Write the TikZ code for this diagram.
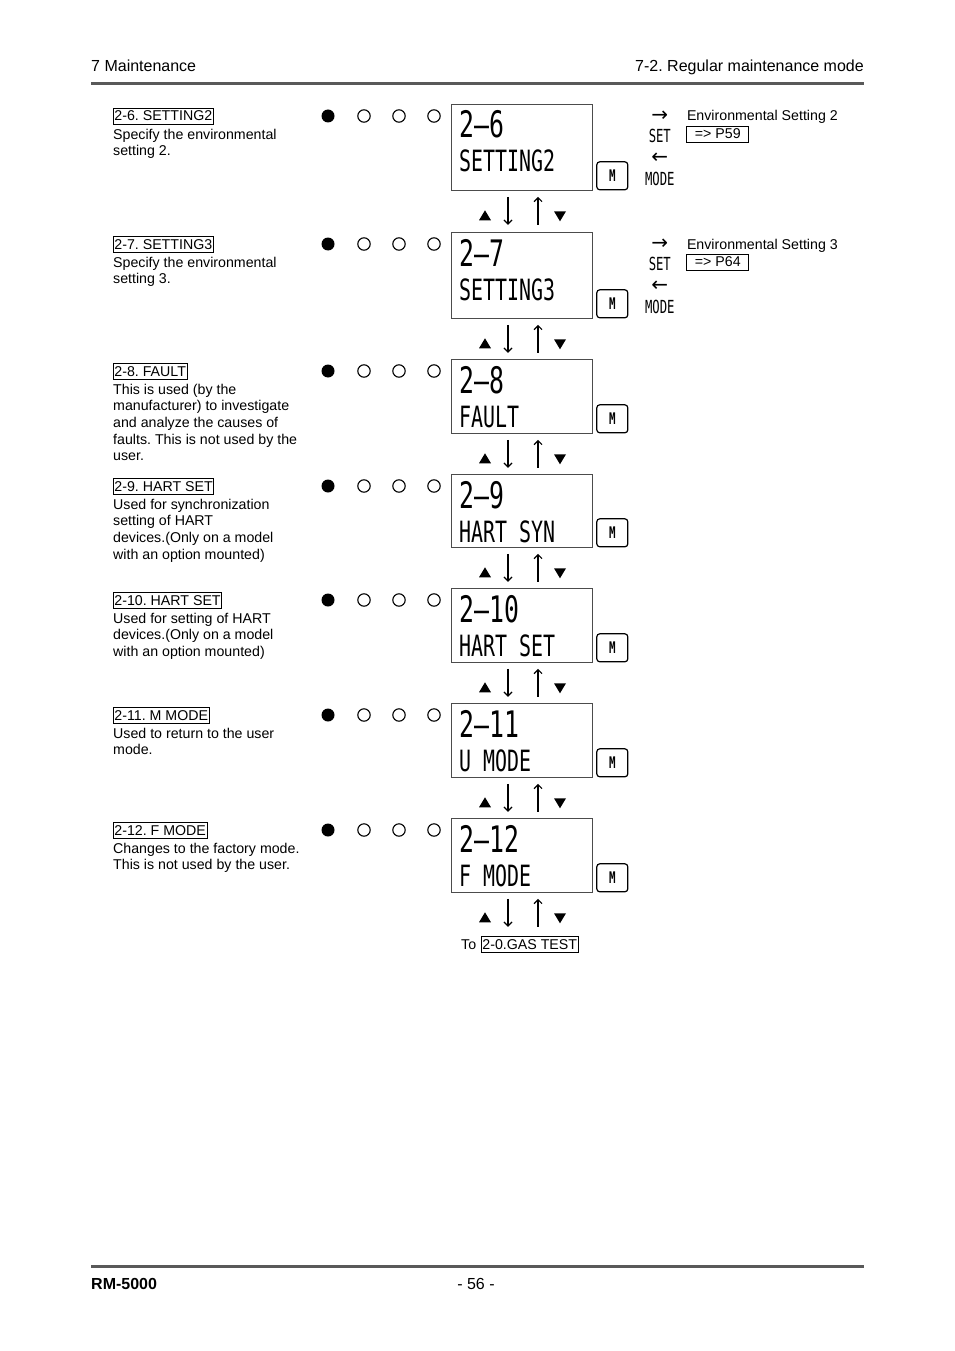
\documentclass[tikz,border=0pt]{standalone}
\usepackage{fontspec}
\setmainfont{Liberation Sans}
\newfontfamily\lcdfont[FakeStretch=0.68]{DejaVu Sans Mono}
\newfontfamily\symfont{DejaVu Sans}
\usetikzlibrary{arrows.meta, positioning, calc}
\frenchspacing

\tikzset{
  head/.style={font=\fontsize{16}{19}\selectfont, inner sep=0pt},
  body/.style={font=\fontsize{14.2}{16.6}\selectfont, inner sep=0pt, align=left},
  titlebox/.style={body, draw, line width=0.8pt, text height=11.5pt, text depth=2.5pt,
    inner xsep=1pt, inner ysep=1pt},
  pagebox/.style={body, draw, line width=0.8pt, minimum width=62pt, minimum height=16pt},
  lcd/.style={draw=black!70, line width=0.8pt, minimum width=141pt, inner sep=0pt,
    anchor=north west},
  lcdbig/.style={font=\lcdfont\fontsize{36.5}{36.5}\selectfont, inner sep=0pt},
  lcdsmall/.style={font=\lcdfont\fontsize{29.3}{29.3}\selectfont, inner sep=0pt},
  keylbl/.style={font=\lcdfont\fontsize{18}{18}\selectfont, inner sep=0pt},
  sym/.style={font=\symfont\fontsize{20}{20}\selectfont, inner sep=0pt},
  mkey/.style={draw, rounded corners=3pt, line width=1.2pt, minimum width=31pt,
    minimum height=28pt, inner sep=0pt, font=\lcdfont\bfseries\fontsize{16}{16}\selectfont},
  dot/.style={line width=1.1pt},
  updn/.style={line width=1.2pt, -{Straight Barb[length=4pt, width=8pt]}},
  rule/.style={line width=3pt, black!65}
}

\begin{document}
\begin{tikzpicture}[x=1pt, y=-1pt]
  \useasboundingbox (0,0) rectangle (954,1351);

  % Header
  \node[head, anchor=base west] (chap) at (91,72) {7 Maintenance};
  \node[head, anchor=base east] (sect) at (864,72) {7-2. Regular maintenance mode};
  \draw[rule] (91,84) -- (864,84);

  % Menu rows: number / box top / box height / title / display / description
  \foreach \n/\t/\h/\ttl/\disp/\desc in {
      6/104/86/SETTING2/SETTING2/{Specify the environmental\\setting 2.},
      7/232/86/SETTING3/SETTING3/{Specify the environmental\\setting 3.},
      8/359/74/FAULT/FAULT/{This is used (by the\\manufacturer) to investigate\\and analyze the causes of\\faults. This is not used by the\\user.},
      9/474/73/HART SET/HART SYN/{Used for synchronization\\setting of HART\\devices.(Only on a model\\with an option mounted)},
      10/588/74/HART SET/HART SET/{Used for setting of HART\\devices.(Only on a model\\with an option mounted)},
      11/703/74/M MODE/U MODE/{Used to return to the user\\mode.},
      12/818/74/F MODE/F MODE/{Changes to the factory mode.\\This is not used by the user.}} {
    % description
    \node[titlebox, anchor=base west] (ttl\n) at (113,\t+17) {2-\n. \ttl};
    \node[body, anchor=north west] (desc\n) at (113,\t+24.8) {\desc};

    % lamps
    \fill (328,\t+12) circle (6.5);
    \foreach \cx in {364,399,434}
      \draw[dot] (\cx,\t+12) circle (6.2);

    % display
    \node[lcd, minimum height=\h] (lcd\n) at (451,\t) {};
    \node[lcdbig, anchor=base west] (num\n) at ($(lcd\n.north west)+(8,34)$) {2–\n};
    \node[lcdsmall, anchor=base west] (disp\n) at ($(lcd\n.north west)+(8,68)$) {\disp};
    \node[mkey] (key\n) at ($(lcd\n.south east)+(19.5,-15)$) {M};

    % up / down keys
    \fill ($(lcd\n.south west)+(34,25)$) ++(-6,4.5) -- ++(12,0) -- ++(-6,-10) -- cycle;
    \draw[updn] ($(lcd\n.south west)+(57,6)$) -- ++(0,28);
    \draw[updn] ($(lcd\n.south west)+(87,34)$) -- ++(0,-28);
    \fill ($(lcd\n.south west)+(109,25)$) ++(-6,-4.5) -- ++(12,0) -- ++(-6,10) -- cycle;
  }

  % SET / MODE for the environmental settings
  \foreach \n/\m/\p in {6/2/59, 7/3/64} {
    \node[sym] (nxt\n) at ($(lcd\n.north east)+(67,12)$) {→};
    \node[keylbl] (set\n) at ($(lcd\n.north east)+(67,32)$) {SET};
    \node[sym] (bck\n) at ($(lcd\n.north east)+(67,54)$) {←};
    \node[keylbl] (mode\n) at ($(lcd\n.north east)+(67,75)$) {MODE};
    \node[body, anchor=base west] (env\n) at ($(lcd\n.north east)+(94,17)$)
      {Environmental Setting \m};
    \node[pagebox] (pg\n) at ($(lcd\n.north east)+(125,30)$) {=> P\p};
  }

  % back to the start
  \node[body, anchor=base west] (to) at (461,949) {To};
  \node[titlebox, anchor=base west] (gas) at (481,949) {2-0.GAS TEST};

  % Footer
  \draw[rule] (91,1266) -- (864,1266);
  \node[head, anchor=base west] (model) at (91,1289) {\bfseries RM-5000};
  \node[head, anchor=base] (page) at (476,1289) {- 56 -};
\end{tikzpicture}
\end{document}
